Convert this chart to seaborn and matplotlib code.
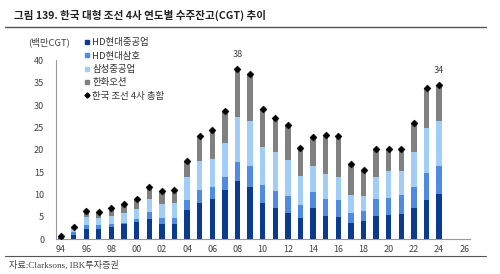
import numpy as np
import pandas as pd
import matplotlib
matplotlib.use("Agg")
import matplotlib.pyplot as plt
from matplotlib.lines import Line2D
import seaborn as sns

sns.set_style("white")
plt.rcParams['font.family'] = ['Noto Sans CJK KR', 'DejaVu Sans']

# Data (백만CGT)
years = list(range(1994, 2025))
hd_hhi = [0.3, 1.0, 2.3, 2.3, 2.8, 3.3, 3.8, 4.5, 3.4, 3.5, 6.6, 8.2, 9.0, 11.0, 13.1, 11.7,
          8.2, 6.9, 5.9, 4.8, 6.9, 5.2, 5.0, 3.7, 4.0, 5.2, 5.4, 5.6, 6.9, 8.8, 10.1]
hd_samho = [0.1, 0.5, 0.8, 0.8, 0.6, 0.4, 0.7, 1.5, 1.4, 1.3, 2.1, 2.8, 2.7, 3.0, 4.1, 4.7,
            4.0, 3.8, 3.7, 2.8, 3.6, 3.8, 3.8, 2.1, 2.3, 3.8, 3.8, 4.2, 4.8, 5.9, 6.3]
samsung = [0.2, 0.9, 1.8, 1.7, 1.8, 2.1, 2.3, 3.0, 3.1, 3.3, 5.3, 6.5, 6.3, 7.4, 10.1, 10.0,
           8.5, 8.8, 8.2, 6.6, 5.8, 5.5, 5.2, 4.0, 3.4, 5.0, 6.1, 5.4, 7.8, 10.2, 10.0]
hanwha = [0.1, 0.4, 1.4, 1.3, 1.8, 2.0, 2.2, 2.6, 2.8, 2.9, 3.5, 5.5, 6.5, 7.3, 10.7, 10.6,
          8.3, 7.6, 7.7, 6.2, 6.6, 8.8, 9.0, 7.0, 5.8, 6.2, 4.9, 4.9, 6.4, 8.9, 8.0]

names = ['HD현대중공업', 'HD현대삼호', '삼성중공업', '한화오션']
colors = ['#0b3b8f', '#4f8ae3', '#a2cdf6', '#808080']
total_label = '한국 조선 4사 총합'

df = pd.DataFrame({'year': years, names[0]: hd_hhi, names[1]: hd_samho,
                   names[2]: samsung, names[3]: hanwha})
cum = df[names].cumsum(axis=1)
df['total'] = cum[names[-1]]

fig = plt.figure(figsize=(5.0, 2.74), dpi=100)
ax = fig.add_axes([0.112, 0.127, 0.828, 0.653])

# stacked bars drawn as layered cumulative bars, tallest first
for name, col in reversed(list(zip(names, colors))):
    sns.barplot(x=df['year'], y=cum[name], native_scale=True, orient='x', width=0.42,
                color=col, saturation=1, errorbar=None, linewidth=0, ax=ax)

sns.scatterplot(x=df['year'], y=df['total'], marker='D', s=13, color='black',
                edgecolor='black', linewidth=0.3, ax=ax, zorder=5, clip_on=False)

for yr in (2008, 2024):
    v = df.loc[df.year == yr, 'total'].iloc[0]
    ax.text(yr, v + 2.2, f"{round(v):d}", ha='center', va='bottom', fontsize=6.5,
            color='#444444', clip_on=False)

ax.set_xlim(1993.6, 2026.45)
ax.set_ylim(0, 40)
ax.set_yticks(range(0, 41, 5))
ax.set_xticks(range(1994, 2027, 2))
ax.set_xticklabels([f"{y % 100:02d}" for y in range(1994, 2027, 2)])
ax.set_xticks(np.arange(1995.5, 2026, 2), minor=True)
ax.set_xlabel('')
ax.set_ylabel('')
ax.tick_params(axis='both', labelsize=6.5, colors='#444444')
ax.tick_params(axis='x', which='major', length=0, pad=4)
ax.tick_params(axis='x', which='minor', length=2.5, direction='inout', color='#999999')
ax.tick_params(axis='y', length=2.5, direction='out', color='#999999', pad=6)
for s in ['top', 'right']:
    ax.spines[s].set_visible(False)
for s in ['left', 'bottom']:
    ax.spines[s].set_color('#999999')
    ax.spines[s].set_linewidth(0.8)

fig.text(0.056, 0.845, '(백만CGT)', fontsize=6.8, color='#444444', va='center')

handles = [Line2D([], [], marker='s', linestyle='', color=c, markersize=3.2) for c in colors]
handles.append(Line2D([], [], marker='D', linestyle='', color='black', markersize=2.6))
leg = fig.legend(handles, names + [total_label], loc='upper left',
                 bbox_to_anchor=(0.158, 0.877), frameon=False, fontsize=6.8,
                 handlelength=0.6, handletextpad=0.3, labelspacing=0.45, borderpad=0)
for t in leg.get_texts():
    t.set_color('#333333')

# header and footer
fig.text(0.028, 0.945, '그림 139. 한국 대형 조선 4사 연도별 수주잔고(CGT) 추이',
         fontsize=7.6, fontweight='bold', color='#222222', va='center')
fig.add_artist(Line2D([0.01, 0.972], [0.901, 0.901], color='#555555', linewidth=1.0))
fig.add_artist(Line2D([0.01, 0.972], [0.066, 0.066], color='#555555', linewidth=0.8))
fig.text(0.018, 0.033, '자료:Clarksons, IBK투자증권', fontsize=6.6, color='#444444',
         va='center', family=['Liberation Serif', 'Noto Sans CJK KR'])

fig.savefig('out.png', dpi=100)
